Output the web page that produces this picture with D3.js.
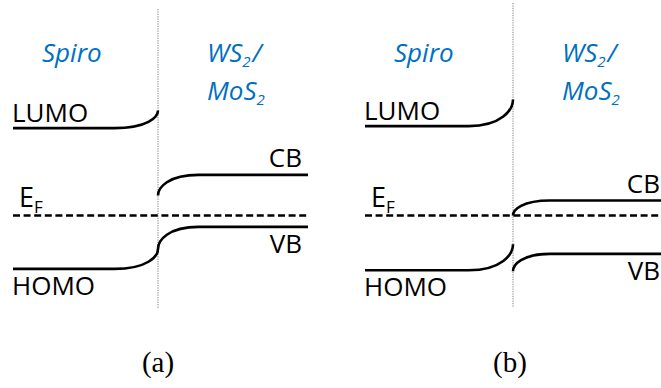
<!DOCTYPE html>
<html>
<head>
<meta charset="utf-8">
<script src="https://cdn.jsdelivr.net/npm/d3@7"></script>
<style>
  html, body { margin: 0; padding: 0; background: #fff; }
  svg { display: block; }
</style>
</head>
<body>
<div id="chart"></div>
<script>
// Band alignment at the Spiro / WS2-MoS2 interface, two cases.
// Energies are relative to the Fermi level (arbitrary units);
// "Bulk" is the flat level far from the interface, "Interface" the bent value at it.
const panelLabels = ["(a)", "(b)"];
const lumoBulk      = [4.37, 4.47];
const lumoInterface = [5.25, 5.80];
const homoBulk      = [-2.67, -2.74];
const homoInterface = [-1.67, -1.44];
const cbBulk        = [2.03, 0.75];
const cbInterface   = [1.00, 0.00];
const vbBulk        = [-0.57, -1.92];
const vbInterface   = [-1.67, -2.79];
const fermiLevel    = [0, 0];
// width of the bent region, as a fraction of each side of the panel
const bendSpiro = [0.30, 0.30];
const bendTmd   = [0.27, 0.24];

const W = 661, H = 388;
const svg = d3.select("#chart").append("svg")
  .attr("width", W).attr("height", H)
  .attr("viewBox", `0 0 ${W} ${H}`);

// Shared energy scale (20 px per unit, E_F at y = 215.5)
const y = d3.scaleLinear().domain([-5, 8]).range([315.5, 55.5]);

// Panel layout: left edge, interface, right edge (pixels)
const layout = [
  { left: 13, mid: 158, right: 308, lineTop: 9, lineBottom: 308, capX: 158 },
  { left: 365, mid: 513, right: 666, lineTop: 3, lineBottom: 307, capX: 510 }
];

const blue = "#0070C0";
const sansFont = "'Open Sans', 'Noto Sans', sans-serif";

// Cubic curve from the interface value to the bulk value, steep at the interface
function bend(x, xInt, eInt, xEnd, eBulk) {
  const p = d3.path();
  const y0 = y(eInt), y1 = y(eBulk);
  p.moveTo(x(xInt), y0);
  p.bezierCurveTo(x(xInt), y0 + (y1 - y0) * 0.38,
                  x(xInt + (xEnd - xInt) * 0.25), y1,
                  x(xEnd), y1);
  return p;
}

panelLabels.forEach((label, i) => {
  const L = layout[i];
  const x = d3.scaleLinear().domain([-1, 0, 1]).range([L.left, L.mid, L.right]);
  const g = svg.append("g");

  // interface (dotted)
  g.append("line")
    .attr("x1", x(0)).attr("x2", x(0))
    .attr("y1", L.lineTop).attr("y2", L.lineBottom)
    .attr("stroke", "#7a7a7a").attr("stroke-width", 1)
    .attr("stroke-dasharray", "1.2,1.2");

  // Fermi level (dashed)
  g.append("line")
    .attr("x1", x(-1)).attr("x2", x(1))
    .attr("y1", y(fermiLevel[i])).attr("y2", y(fermiLevel[i]))
    .attr("stroke", "#000").attr("stroke-width", 2.6)
    .attr("stroke-dasharray", "7,3.6");

  const bandStyle = sel => sel.attr("fill", "none").attr("stroke", "#000")
    .attr("stroke-width", 2.6).attr("stroke-linecap", "butt");

  // Spiro side: LUMO and HOMO
  const ws = bendSpiro[i];
  [[lumoInterface[i], lumoBulk[i]], [homoInterface[i], homoBulk[i]]].forEach(([eI, eB]) => {
    const p = bend(x, 0, eI, -ws, eB);
    p.lineTo(x(-1), y(eB));
    g.append("path").attr("d", p.toString()).call(bandStyle);
  });

  // WS2/MoS2 side: CB and VB
  const wt = bendTmd[i];
  [[cbInterface[i], cbBulk[i]], [vbInterface[i], vbBulk[i]]].forEach(([eI, eB]) => {
    const p = bend(x, 0, eI, wt, eB);
    p.lineTo(x(1), y(eB));
    g.append("path").attr("d", p.toString()).call(bandStyle);
  });

  // level labels
  const txt = (tx, ty, s, anchor) => g.append("text")
    .attr("x", tx).attr("y", ty)
    .attr("text-anchor", anchor || "start")
    .attr("font-family", sansFont).attr("font-size", 26)
    .attr("fill", "#000").text(s);

  txt(x(-1) - 1, y(lumoBulk[i]) - 6, "LUMO");
  txt(x(-1) - 1, y(homoBulk[i]) + 26, "HOMO");
  txt(x(1) - 6, y(cbBulk[i]) - 8, "CB", "end");
  txt(x(1) - 6, y(vbBulk[i]) + 26, "VB", "end");

  const ef = g.append("text")
    .attr("x", x(-1) + 6).attr("y", y(fermiLevel[i]) - 9)
    .attr("font-family", sansFont).attr("font-size", 27).attr("fill", "#000");
  ef.append("tspan").text("E");
  ef.append("tspan").attr("font-size", 17).attr("dy", 6).text("F");

  // material names
  const blueText = (tx, ty) => g.append("text")
    .attr("x", tx).attr("y", ty)
    .attr("font-family", sansFont).attr("font-style", "italic")
    .attr("font-size", 26).attr("fill", blue);

  blueText(x(-1) + 29, 62).text("Spiro");

  const ws2 = blueText(x(0) + 49, 62);
  ws2.append("tspan").text("WS");
  ws2.append("tspan").attr("font-size", 15).attr("dy", 5).text("2");
  ws2.append("tspan").attr("dy", -5).attr("dx", 2).text("/");

  const mos2 = blueText(x(0) + 49, 100);
  mos2.append("tspan").text("MoS");
  mos2.append("tspan").attr("font-size", 15).attr("dy", 5).text("2");

  // panel caption
  g.append("text")
    .attr("x", L.capX).attr("y", 372)
    .attr("text-anchor", "middle")
    .attr("font-family", "'Liberation Serif', 'DejaVu Serif', serif")
    .attr("font-size", 29).attr("fill", "#000")
    .text(label);
});
</script>
</body>
</html>
